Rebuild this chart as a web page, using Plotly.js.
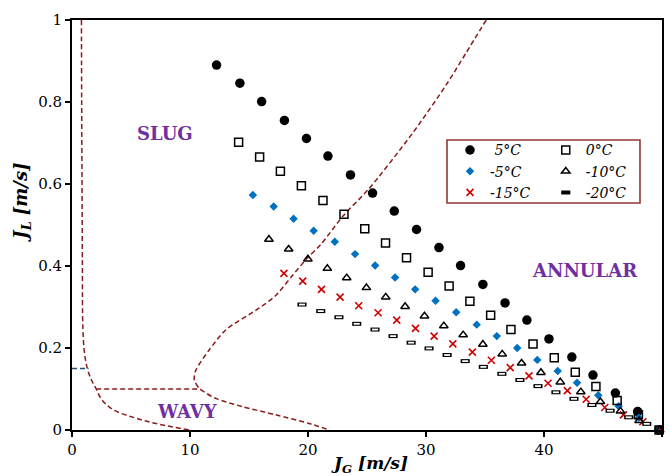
<!DOCTYPE html>
<html><head><meta charset="utf-8">
<script src="https://cdn.plot.ly/plotly-3.0.1.min.js"></script>
<style>html,body{margin:0;padding:0;background:#fff}#chart{width:671px;height:476px}</style>
</head><body><div id="chart"></div>
<script>
// ---- data ----
const x5 = [12.25,14.23,16.07,18.0,19.87,21.69,23.6,25.47,27.31,29.2,31.1,32.93,34.82,36.7,38.55,40.42,42.36,44.15,46.05,47.94,49.75];
const y5 = [0.890,0.846,0.801,0.755,0.711,0.668,0.622,0.578,0.534,0.489,0.445,0.401,0.355,0.310,0.268,0.222,0.178,0.134,0.090,0.045,0.0];
const x0 = [14.12,15.9,17.66,19.44,21.27,23.05,24.81,26.57,28.35,30.18,31.96,33.72,35.48,37.2,39.07,40.87,42.65,44.4,46.2,48.0,49.75];
const y0 = [0.702,0.666,0.631,0.596,0.560,0.526,0.491,0.456,0.420,0.385,0.351,0.314,0.280,0.245,0.210,0.176,0.141,0.106,0.072,0.037,0.0];
const xm5 = [15.33,17.09,18.78,20.48,22.27,23.99,25.69,27.38,29.08,30.81,32.56,34.3,36.0,37.73,39.43,41.16,42.8,44.6,46.33,48.03,49.75];
const ym5 = [0.573,0.545,0.515,0.486,0.459,0.429,0.401,0.372,0.343,0.315,0.287,0.257,0.229,0.200,0.171,0.144,0.115,0.085,0.058,0.030,0.0];
const xm10 = [16.69,18.36,19.99,21.64,23.28,24.95,26.59,28.23,29.87,31.51,33.15,34.82,36.46,38.1,39.74,41.38,43.12,44.78,46.48,48.06,49.8];
const ym10 = [0.465,0.441,0.417,0.394,0.371,0.347,0.324,0.301,0.278,0.254,0.232,0.209,0.185,0.163,0.140,0.117,0.093,0.069,0.046,0.023,0.0];
const xm15 = [17.96,19.55,21.14,22.72,24.3,25.94,27.52,29.11,30.69,32.27,33.93,35.54,37.14,38.73,40.34,41.98,43.57,45.15,46.73,48.38,49.85];
const ym15 = [0.382,0.363,0.343,0.324,0.303,0.286,0.268,0.248,0.229,0.210,0.190,0.170,0.152,0.132,0.114,0.096,0.075,0.055,0.037,0.020,0.0];
const xm20 = [19.49,21.08,22.62,24.13,25.68,27.21,28.74,30.26,31.79,33.32,34.86,36.43,37.96,39.49,41.01,42.54,44.06,45.6,47.18,48.71,50.2];
const ym20 = [0.306,0.290,0.275,0.259,0.245,0.229,0.213,0.199,0.183,0.168,0.154,0.137,0.122,0.107,0.092,0.076,0.061,0.047,0.031,0.015,0.0];

// flow-regime boundaries
const leftBX = [0.8,0.82,0.85,0.88,0.92,1.05,1.3,1.65,2.05,2.5,3.45,5.4,7.4,10.0];
const leftBY = [1.0,0.8,0.6,0.4,0.25,0.19,0.15,0.122,0.1,0.075,0.05,0.029,0.014,0.0];
const sBX = [35.1,33.4,31.74,28.86,25.15,22.97,21.07,19.93,18.66,17.26,15.85,13.03,11.62,10.5,10.36,10.78,11.2,12.19,14.44,17.26,20.08,21.8];
const sBY = [1.0,0.92,0.843,0.724,0.588,0.522,0.452,0.419,0.376,0.328,0.297,0.244,0.195,0.146,0.122,0.102,0.093,0.077,0.057,0.037,0.016,0.0];
const hBX = [2.05,10.9];
const hBY = [0.1,0.1];
const blueX = [0,1.4];
const blueY = [0.15,0.15];

const names = ['\u00a05°C','0°C','-5°C','-10°C','-15°C','-20°C'];
const regimes = ['SLUG','ANNULAR','WAVY'];

const serif = 'DejaVu Serif';
const bc = '#8B1A1A';
const dashLine = {color: bc, width: 1.5, dash: '5px,3px'};

const traces = [
  {x: leftBX, y: leftBY, mode: 'lines', line: Object.assign({shape:'spline'}, dashLine), showlegend:false, hoverinfo:'skip'},
  {x: sBX, y: sBY, mode: 'lines', line: Object.assign({shape:'spline', smoothing:0.8}, dashLine), showlegend:false, hoverinfo:'skip'},
  {x: hBX, y: hBY, mode: 'lines', line: dashLine, showlegend:false, hoverinfo:'skip'},
  {x: blueX, y: blueY, mode: 'lines', line: {color:'#1F4E79', width:1.5, dash:'5px,3px'}, showlegend:false, hoverinfo:'skip'},
  {x: x5, y: y5, name: names[0], mode:'markers', legend:'legend', cliponaxis:false,
   marker:{symbol:'circle', size:9.5, color:'#000'}},
  {x: xm5, y: ym5, name: names[2], mode:'markers', legend:'legend', cliponaxis:false,
   marker:{symbol:'diamond', size:6.5, color:'#0070C0'}},
  {x: xm15, y: ym15, name: names[4], mode:'markers', legend:'legend', cliponaxis:false,
   marker:{symbol:'x-thin-open', size:7, color:'#D00000', line:{color:'#D00000', width:1.6}}},
  {x: x0, y: y0, name: names[1], mode:'markers', legend:'legend2', cliponaxis:false,
   marker:{symbol:'square-open', size:8, color:'#000', line:{color:'#000', width:1.5}}},
  {x: xm10, y: ym10, name: names[3], mode:'markers', legend:'legend2', cliponaxis:false,
   marker:{symbol:'triangle-up-open', size:7.5, color:'#000', line:{color:'#000', width:1.5}}},
  {x: xm20, y: ym20, name: names[5], mode:'markers', legend:'legend2', cliponaxis:false,
   marker:{symbol:'line-ew', size:6.5, color:'#000', line:{color:'#000', width:4}}},
  {x: xm20, y: ym20, name: names[5], mode:'markers', showlegend:false, cliponaxis:false,
   marker:{symbol:'line-ew', size:4.3, color:'#fff', line:{color:'#fff', width:1.8}}}
];

const legendCommon = {
  orientation:'v', yanchor:'top', xanchor:'left', bgcolor:'rgba(0,0,0,0)', borderwidth:0,
  font:{family:serif, size:14, color:'#000', style:'italic'}, itemclick:false, itemdoubleclick:false
};

const axisCommon = {
  showline:true, linecolor:'#000', linewidth:2, mirror:true, ticks:'outside', ticklen:5, tickwidth:2,
  tickcolor:'#000', showgrid:false, zeroline:false, tickfont:{family:serif, size:15, color:'#000'}
};

const purple = {family:serif, size:18, color:'#7030A0', weight:'bold'};

const layout = {
  width:671, height:476,
  margin:{l:72, r:9, t:20, b:46},
  paper_bgcolor:'#fff', plot_bgcolor:'#fff',
  xaxis: Object.assign({range:[0,50], dtick:10, tick0:0}, axisCommon),
  yaxis: Object.assign({range:[0,1], dtick:0.2, tick0:0}, axisCommon),
  legend: Object.assign({x:0.6407, y:0.721}, legendCommon),
  legend2: Object.assign({x:0.803, y:0.721}, legendCommon),
  shapes:[{type:'rect', xref:'paper', yref:'paper', x0:0.6356, x1:0.9627, y0:0.5537, y1:0.7073,
           line:{color:'#943634', width:1.6}, fillcolor:'rgba(0,0,0,0)'}],
  annotations:[
    {text:'<b>'+regimes[0]+'</b>', x:7.85, y:0.724, xref:'x', yref:'y', showarrow:false, font:purple},
    {text:'<b>'+regimes[1]+'</b>', x:43.5, y:0.39, xref:'x', yref:'y', showarrow:false, font:purple},
    {text:'<b>'+regimes[2]+'</b>', x:9.8, y:0.044, xref:'x', yref:'y', showarrow:false, font:purple},
    {text:'<b><i>J<sub>G</sub> [m/s]</i></b>', xref:'paper', yref:'paper', x:0.505, y:-0.083,
     xanchor:'center', yanchor:'middle', showarrow:false, font:{family:serif, size:17, color:'#000'}},
    {text:'<b><i>J<sub>L</sub> [m/s]</i></b>', xref:'paper', yref:'paper', x:-0.085, y:0.556, textangle:-90,
     xanchor:'center', yanchor:'middle', showarrow:false, font:{family:serif, size:18, color:'#000'}}
  ]
};

Plotly.newPlot('chart', traces, layout, {staticPlot:true, displayModeBar:false});
</script></body></html>
